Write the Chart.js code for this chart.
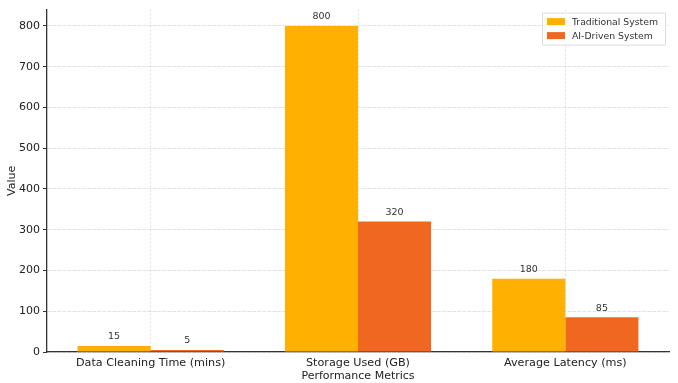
<!DOCTYPE html>
<html><head><meta charset="utf-8">
<script src="https://cdn.jsdelivr.net/npm/chart.js@4/dist/chart.umd.min.js"></script>
<style>html,body{margin:0;padding:0;background:#fff}#wrap{width:678px;height:383px}</style>
</head><body><div id="wrap"><canvas id="c" width="678" height="383"></canvas></div>
<script>
const categories = ["Data Cleaning Time (mins)", "Storage Used (GB)", "Average Latency (ms)"];
const traditionalValues = [15, 800, 180];
const aiDrivenValues = [5, 320, 85];
const seriesNames = ["Traditional System", "AI-Driven System"];
const yTicks = [0, 100, 200, 300, 400, 500, 600, 700, 800];

const FONT = "'DejaVu Sans', sans-serif";
const colors = ["#FFB000", "#F0671F"];

const valueLabels = {
  id: 'valueLabels',
  afterDatasetsDraw(chart) {
    const ctx = chart.ctx;
    ctx.save();
    ctx.font = "9.5px " + FONT;
    ctx.fillStyle = "#333";
    ctx.textAlign = "center";
    ctx.textBaseline = "bottom";
    chart.data.datasets.forEach((ds, i) => {
      chart.getDatasetMeta(i).data.forEach((bar, j) => {
        ctx.fillText(String(ds.data[j]), bar.x, bar.y - 4.5);
      });
    });
    ctx.restore();
  }
};

const boxLegend = {
  id: 'boxLegend',
  afterDraw(chart) {
    const ctx = chart.ctx, a = chart.chartArea;
    const w = 123, h = 32;
    const x0 = a.right - w - 4, y0 = a.top + 3;
    ctx.save();
    ctx.fillStyle = "rgba(255,255,255,0.85)";
    ctx.strokeStyle = "#ddd";
    ctx.lineWidth = 1;
    ctx.beginPath();
    ctx.rect(x0 + 0.5, y0 + 0.5, w, h);
    ctx.fill(); ctx.stroke();
    ctx.font = "9.3px " + FONT;
    ctx.textBaseline = "middle";
    ctx.textAlign = "left";
    chart.data.datasets.forEach((ds, i) => {
      const cy = y0 + 9 + i * 14;
      ctx.fillStyle = ds.backgroundColor;
      ctx.fillRect(x0 + 5, cy - 3.5, 18, 7);
      ctx.fillStyle = "#333";
      ctx.fillText(ds.label, x0 + 30, cy + 0.5);
    });
    ctx.restore();
  }
};

new Chart(document.getElementById('c'), {
  type: 'bar',
  data: {
    labels: categories,
    datasets: [
      { label: seriesNames[0], data: traditionalValues, backgroundColor: colors[0] },
      { label: seriesNames[1], data: aiDrivenValues, backgroundColor: colors[1] }
    ]
  },
  options: {
    responsive: false,
    animation: false,
    devicePixelRatio: 1,
    layout: { padding: { top: 9, right: 9, left: 0, bottom: 0 } },
    datasets: { bar: { categoryPercentage: 0.705, barPercentage: 1.0, borderWidth: 0 } },
    plugins: { legend: { display: false }, tooltip: { enabled: false } },
    scales: {
      x: {
        offset: true,
        grid: { offset: false, color: "rgba(0,0,0,0.12)", lineWidth: 1, drawTicks: false },
        border: { color: "#333", width: 1.3, dash: [2, 2] },
        ticks: { color: "#222", font: { family: FONT, size: 11.2 }, padding: 4, maxRotation: 0 },
        title: { display: true, text: "Performance Metrics", color: "#222", font: { family: FONT, size: 11 }, padding: { top: 3, bottom: 0 } },
        afterFit(s) { s.height = 31; }
      },
      y: {
        min: 0, max: 840,
        afterBuildTicks(s) { s.ticks = yTicks.map(v => ({ value: v })); },
        grid: { color: "rgba(0,0,0,0.11)", lineWidth: 1, tickLength: 4, tickColor: "#333" },
        border: { color: "#333", width: 1.3, dash: [4, 1] },
        ticks: { color: "#222", font: { family: FONT, size: 11 }, padding: 3 },
        title: { display: true, text: "Value", color: "#222", font: { family: FONT, size: 11 }, padding: { top: 6, bottom: 0 } },
        afterFit(s) { s.width = 47; }
      }
    }
  },
  plugins: [valueLabels, boxLegend]
});
</script>
</body></html>
